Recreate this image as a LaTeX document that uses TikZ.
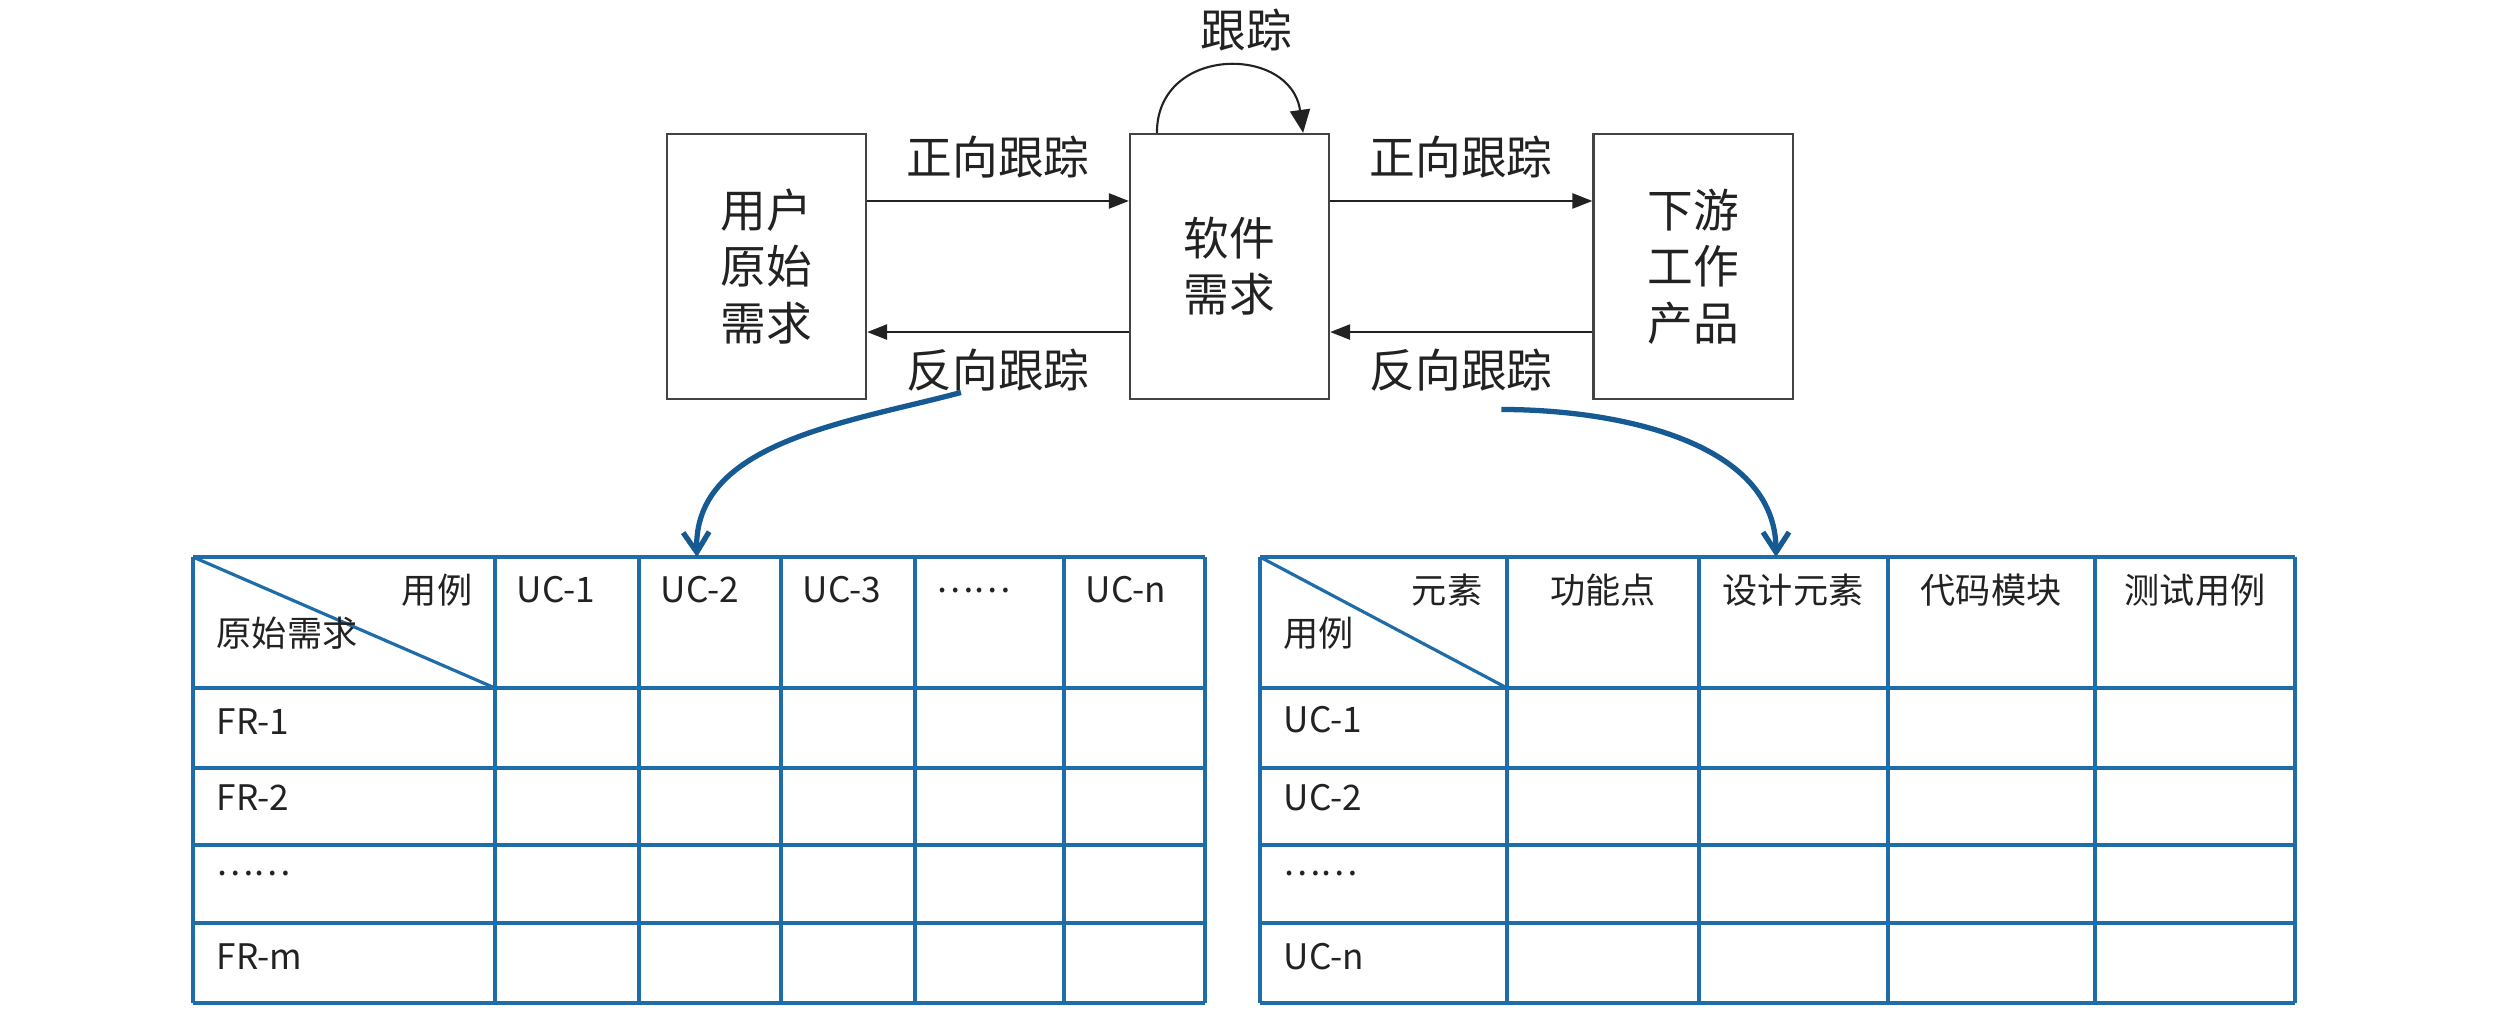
\documentclass[tikz,border=0pt]{standalone}
\usepackage{fontspec}
\setmainfont{Noto Sans CJK SC}
\usetikzlibrary{arrows.meta}

\definecolor{inkgray}{RGB}{34,34,34}
\definecolor{gridblue}{RGB}{30,108,168}
\definecolor{curveblue}{RGB}{22,90,148}

\begin{document}
\begin{tikzpicture}[x=0.01cm, y=0.01cm, font=\fontsize{13}{16}\selectfont, text=inkgray,
    box/.style={draw=inkgray!85, line width=0.6pt, minimum width=1.99cm, minimum height=2.65cm, align=center},
    lbl/.style={inner sep=0pt},
    cell/.style={font=\fontsize{10}{12}\selectfont, inner sep=0pt},
    flow/.style={draw=inkgray, line width=0.7pt, -{Triangle[length=0.2cm, width=0.15cm]}},
    grid/.style={draw=gridblue, line width=0.9pt},
    back/.style={draw=curveblue, line width=1.5pt, -{Straight Barb[length=0.2cm, width=0.26cm, line width=1.5pt]}}]

    \useasboundingbox (0,0) rectangle (2520,-1014);

    %%% Upper chain of artefacts
    \node (usr) [box] at (766.5,-266.5) {用户\\原始\\需求};
    \node (sw)  [box] at (1229.5,-266.5) {软件\\需求};
    \node (dwn) [box] at (1693,-266.5) {下游\\工作\\产品};

    % forward and backward tracing
    \draw[flow] ([yshift=0.655cm]usr.east) -- ([yshift=0.655cm]sw.west)
        node[lbl, midway, yshift=0.44cm] (fw1) {正向跟踪};
    \draw[flow] ([yshift=0.655cm]sw.east) -- ([yshift=0.655cm]dwn.west)
        node[lbl, midway, yshift=0.44cm] (fw2) {正向跟踪};
    \draw[flow] ([yshift=-0.655cm]sw.west) -- ([yshift=-0.655cm]usr.east)
        node[lbl, midway, yshift=-0.38cm] (bk1) {反向跟踪};
    \draw[flow] ([yshift=-0.655cm]dwn.west) -- ([yshift=-0.655cm]sw.east)
        node[lbl, midway, yshift=-0.38cm] (bk2) {反向跟踪};

    % self loop on the software requirements
    \draw[draw=inkgray, line width=0.6pt, -{Triangle[length=0.23cm, width=0.2cm]}]
        ([xshift=0.28cm]sw.north west) .. controls +(0,88) and +(-12,88) .. ([xshift=-0.27cm]sw.north east);
    \node (trk) [lbl] at (1246,-30) {跟踪};

    %%% Left matrix: original requirements vs. use cases
    \foreach \x in {193,495,639,781,915,1064,1205}
        \draw[grid] (\x,-557) -- (\x,-1003);
    \foreach \y in {557,688,768,845,923,1003}
        \draw[grid] (193,-\y) -- (1205,-\y);
    \draw[grid] (193,-557) -- (495,-688);
    \coordinate (lt) at (697,-557);

    \node (lc1) [cell, anchor=east] at (473,-590) {用例};
    \node (lc2) [cell, anchor=west] at (216,-633) {原始需求};
    \foreach \x/\t [count=\i] in {495/UC-1, 639/UC-2, 781/UC-3, 915/……, 1064/UC-n}
        \node (lh\i) [cell, anchor=west] at (\x+21,-590) {\t};
    \foreach \y/\t [count=\i] in {722/FR-1, 798/FR-2, 873/……, 957/FR-m}
        \node (lr\i) [cell, anchor=west] at (216,-\y) {\t};

    %%% Right matrix: use cases vs. downstream elements
    \foreach \x in {1260,1507,1699,1888,2095,2295}
        \draw[grid] (\x,-557) -- (\x,-1003);
    \foreach \y in {557,688,768,845,923,1003}
        \draw[grid] (1260,-\y) -- (2295,-\y);
    \draw[grid] (1260,-557) -- (1507,-688);
    \coordinate (rt) at (1776,-557);

    \node (rc1) [cell, anchor=east] at (1483,-590) {元素};
    \node (rc2) [cell, anchor=west] at (1283,-633) {用例};
    \foreach \x/\t [count=\i] in {1603/功能点, 1793/设计元素, 1991/代码模块, 2195/测试用例}
        \node (rh\i) [cell] at (\x,-590) {\t};
    \foreach \y/\t [count=\i] in {720/UC-1, 798/UC-2, 873/……, 957/UC-n}
        \node (rr\i) [cell, anchor=west] at (1283,-\y) {\t};

    %%% Backward tracing leads down into the matrices
    \draw[back] ([xshift=-0.37cm]bk1.south) to[out=195, in=92, looseness=0.95] (lt);
    \draw[back] ([xshift=0.40cm, yshift=-0.17cm]bk2.south) to[out=0, in=90, looseness=0.95] (rt);

\end{tikzpicture}
\end{document}
